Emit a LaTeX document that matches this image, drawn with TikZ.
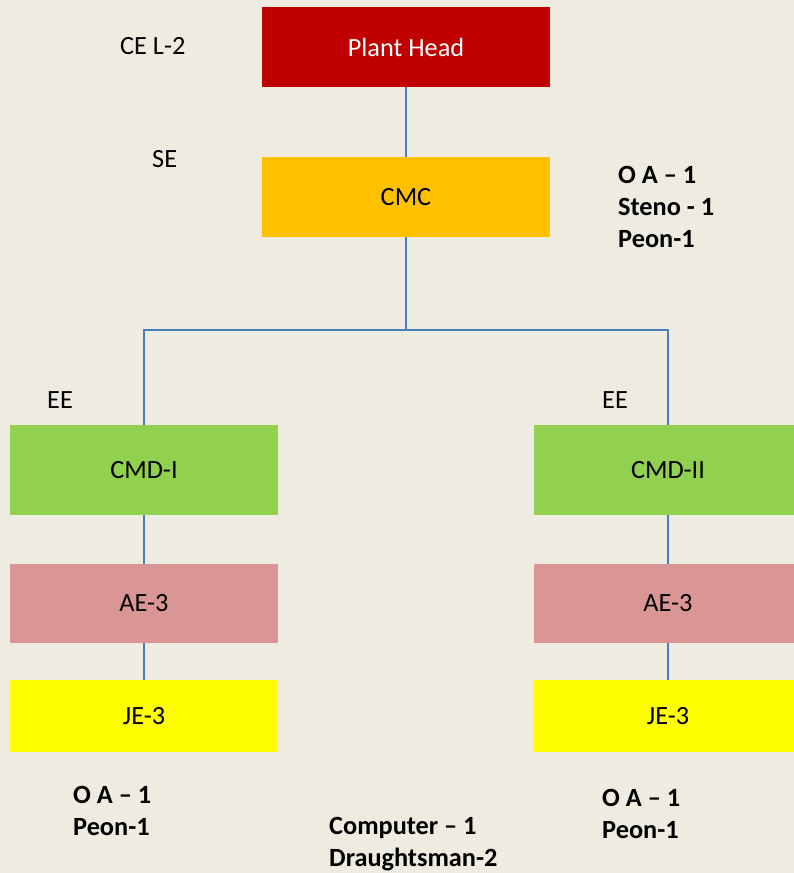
\documentclass[tikz,border=0pt]{standalone}
\usepackage{fontspec}
\setmainfont{Carlito}
\definecolor{bg}{HTML}{EEECE1}
\definecolor{redbox}{HTML}{C00000}
\definecolor{orangebox}{HTML}{FFC000}
\definecolor{greenbox}{HTML}{92D050}
\definecolor{pinkbox}{HTML}{DA9694}
\definecolor{yellowbox}{HTML}{FFFF00}
\definecolor{conn}{HTML}{4A7EBB}
\begin{document}
\begin{tikzpicture}[x=1pt,y=-1pt,
  every node/.style={font=\fontsize{26.3}{32}\selectfont},
  box/.style={minimum width=268pt,inner sep=0pt},
  lbl/.style={anchor=base west,inner sep=0pt},
  blbl/.style={anchor=base west,inner sep=0pt,font=\fontsize{26.3}{32}\selectfont\bfseries},
  link/.style={draw=conn,line width=1.5pt}]
\fill[bg] (0,0) rectangle (794,873);
\useasboundingbox (0,0) rectangle (794,873);
% boxes
\node[box,fill=redbox,text=white,minimum width=288pt,minimum height=80pt] (ph) at (406,47) {Plant Head};
\node[box,fill=orangebox,minimum width=288pt,minimum height=80pt] (cmc) at (406,197) {CMC};
\node[box,fill=greenbox,minimum height=90pt] (cmd1) at (144,470) {CMD-I};
\node[box,fill=greenbox,minimum height=90pt] (cmd2) at (668,470) {CMD-II};
\node[box,fill=pinkbox,minimum height=79pt] (ae1) at (144,603.5) {AE-3};
\node[box,fill=pinkbox,minimum height=79pt] (ae2) at (668,603.5) {AE-3};
\node[box,fill=yellowbox,minimum height=72pt] (je1) at (144,716) {JE-3};
\node[box,fill=yellowbox,minimum height=72pt] (je2) at (668,716) {JE-3};
% connectors
\coordinate (bus) at (406,330);
\draw[link] (ph) -- (cmc);
\draw[link] (cmc) -- (bus);
\draw[link] (bus) -| (cmd1);
\draw[link] (bus) -| (cmd2);
\draw[link] (cmd1) -- (ae1);
\draw[link] (ae1) -- (je1);
\draw[link] (cmd2) -- (ae2);
\draw[link] (ae2) -- (je2);
% labels
\node[lbl] (cel) at (120,54) {CE L-2};
\node[lbl] (se) at (152,167) {SE};
\node[lbl] (ee1) at (47,408) {EE};
\node[lbl] (ee2) at (602,408) {EE};
\node[blbl] (s1) at (618,183) {O A – 1};
\node[blbl] (s2) at (618,215) {Steno - 1};
\node[blbl] (s3) at (618,247) {Peon-1};
\node[blbl] (l1) at (73,803) {O A – 1};
\node[blbl] (l2) at (73,835) {Peon-1};
\node[blbl] (m1) at (329,834) {Computer – 1};
\node[blbl] (m2) at (329,866) {Draughtsman-2};
\node[blbl] (r1) at (602,806) {O A – 1};
\node[blbl] (r2) at (602,838) {Peon-1};
\end{tikzpicture}
\end{document}
